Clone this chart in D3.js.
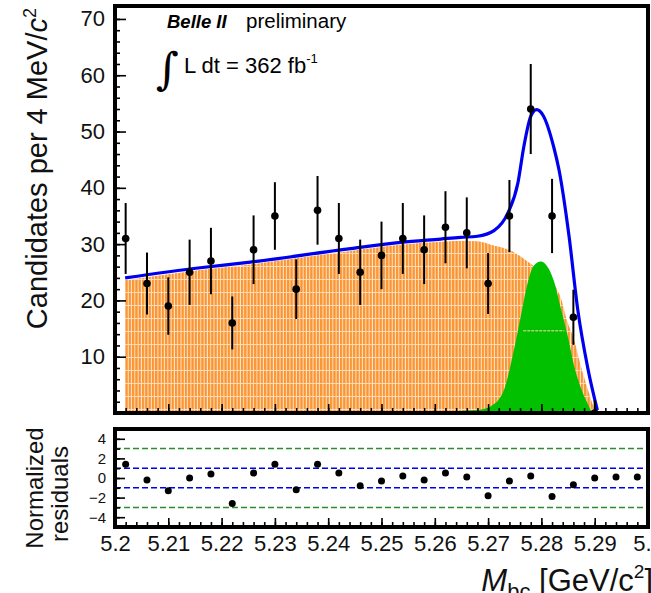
<!DOCTYPE html>
<html>
<head>
<meta charset="utf-8">
<script src="https://cdn.jsdelivr.net/npm/d3@7/dist/d3.min.js"></script>
<style>
  body { margin: 0; background: #fff; }
  svg { display: block; font-family: "Liberation Sans", Arial, Helvetica, sans-serif; }
</style>
</head>
<body>
<div id="chart"></div>
<script>
// bin centres of the 4 MeV bins
const binCenters = [5.202, 5.206, 5.210, 5.214, 5.218, 5.222, 5.226, 5.230, 5.234, 5.238,
    5.242, 5.246, 5.250, 5.254, 5.258, 5.262, 5.266, 5.270, 5.274, 5.278,
    5.282, 5.286, 5.290, 5.294, 5.298];
const counts = [31, 23, 19, 25, 27, 16, 29, 35, 22, 36, 31, 25, 28, 31, 29, 33, 32, 23, 35, 54, 35, 17, 0];
const errors = [6.3, 5.5, 5.1, 5.8, 5.9, 4.7, 6.1, 6.0, 5.3, 6.1, 6.3, 5.8, 6.0, 6.3, 6.1, 6.4, 6.3, 5.4, 6.4, 8.0, 6.6, 4.9, 2.3];
const residuals = [1.4, -0.2, -1.3, 0.0, 0.4, -2.6, 0.5, 1.4, -1.2, 1.4, 0.5, -0.8, -0.3, 0.2, -0.2,
    0.5, 0.1, -1.8, -0.3, 0.2, -1.9, -0.7, 0.0, 0.1, 0.1];

// fit curves: [Mbc, candidates]
const totalFit = [[5.2019, 24.0], [5.216, 25.8], [5.2254, 26.8], [5.2442, 29.2], [5.2536, 30.3],
    [5.2611, 30.9], [5.2648, 31.2], [5.268, 31.4], [5.2711, 32.4], [5.2737, 35.5], [5.2756, 40.9],
    [5.2767, 47.3], [5.278, 52.7], [5.2791, 53.9], [5.2803, 52.9], [5.2823, 47.3], [5.2833, 43.2],
    [5.2852, 31.3], [5.2868, 18.5], [5.2887, 8.0], [5.2905, 0.5]];
const bkgFit = [[5.2019, 23.6], [5.216, 25.4], [5.2254, 26.4], [5.2442, 28.8], [5.2536, 29.9],
    [5.2611, 30.4], [5.2648, 30.6], [5.268, 30.5], [5.2705, 29.9], [5.2748, 28.6], [5.2767, 27.4],
    [5.278, 26.5], [5.2808, 24.3], [5.2836, 20.6], [5.2848, 16.4], [5.286, 13.4], [5.2873, 8.7],
    [5.2888, 3.9], [5.29, 0.7], [5.2906, 0]];
const sigFit = [[5.2615, 0], [5.2625, 0.3], [5.265, 0.4], [5.2685, 0.6], [5.2705, 1.2], [5.2729, 3.9],
    [5.2748, 11], [5.2761, 17], [5.2774, 23], [5.2786, 26.2], [5.2799, 26.9], [5.2812, 25.9],
    [5.2823, 23.6], [5.2836, 18.8], [5.285, 13.4], [5.2861, 8.5], [5.2874, 4.5], [5.2886, 1.8],
    [5.2893, 0.5], [5.2906, 0]];

const yTicks = [10, 20, 30, 40, 50, 60, 70];
const resTicks = [-4, -2, 0, 2, 4];
const resLabels = ['\u22124', '\u22122', '0', '2', '4'];
const xTicks = [5.2, 5.21, 5.22, 5.23, 5.24, 5.25, 5.26, 5.27, 5.28, 5.29, 5.3];
const xTickLabels = ['5.2', '5.21', '5.22', '5.23', '5.24', '5.25', '5.26', '5.27', '5.28', '5.29', '5.3'];

(function () {
    const width = 651, height = 593;
    const left = 115, right = 648;

    const svg = d3.select('#chart').append('svg')
        .attr('width', width).attr('height', height);

    const x = d3.scaleLinear().domain([5.2, 5.3]).range([left, right]);
    const y = d3.scaleLinear().domain([0, 72.3]).range([413, 6]);
    const yr = d3.scaleLinear().domain([-5, 5]).range([527, 429]);

    // hatch for the background component
    const defs = svg.append('defs');
    const pat = defs.append('pattern').attr('id', 'hatch')
        .attr('patternUnits', 'userSpaceOnUse').attr('width', 3.3).attr('height', 13);
    pat.append('rect').attr('width', 3.3).attr('height', 13).attr('fill', '#fa9532');
    pat.append('rect').attr('x', 2.3).attr('width', 1).attr('height', 13).attr('fill', '#fff').attr('opacity', 0.75);
    pat.append('rect').attr('y', 6).attr('width', 2.3).attr('height', 1).attr('fill', '#ffdcb8');

    defs.append('clipPath').attr('id', 'topclip').append('rect')
        .attr('x', left).attr('y', 6).attr('width', right - left).attr('height', 407);

    // ---- top panel
    const topPanel = svg.append('g').attr('clip-path', 'url(#topclip)');

    const area = d3.area().x(d => x(d[0])).y0(y(0)).y1(d => y(d[1])).curve(d3.curveMonotoneX);
    const line = d3.line().x(d => x(d[0])).y(d => y(d[1])).curve(d3.curveMonotoneX);

    topPanel.append('path').datum(bkgFit).attr('d', area).attr('fill', 'url(#hatch)');
    topPanel.append('path').datum(sigFit).attr('d', area).attr('fill', '#00c000');
    // stray hatch line that shows through the signal
    topPanel.append('line')
        .attr('x1', x(5.2766)).attr('x2', x(5.2843)).attr('y1', y(14.6)).attr('y2', y(14.6))
        .attr('stroke', '#ffd9a8').attr('stroke-width', 1).attr('stroke-dasharray', '3,1');
    topPanel.append('path').datum(totalFit).attr('d', line)
        .attr('fill', 'none').attr('stroke', '#0000f0').attr('stroke-width', 3.2);

    const pts = counts.map((c, i) => ({ m: binCenters[i], n: c, e: errors[i] }));
    topPanel.selectAll('line.err').data(pts).enter().append('line')
        .attr('class', 'err')
        .attr('x1', d => x(d.m)).attr('x2', d => x(d.m))
        .attr('y1', d => y(d.n + d.e)).attr('y2', d => y(Math.max(0, d.n - d.e)))
        .attr('stroke', '#000').attr('stroke-width', 2);
    topPanel.selectAll('circle').data(pts).enter().append('circle')
        .attr('cx', d => x(d.m)).attr('cy', d => y(d.n)).attr('r', 3.8).attr('fill', '#000');

    // axes (ticks point inwards)
    const topAxes = svg.append('g');
    topAxes.append('g').attr('transform', `translate(${left},0)`)
        .call(d3.axisLeft(y).tickValues(d3.range(2, 72, 2)).tickSize(-5).tickFormat(''));
    topAxes.append('g').attr('transform', `translate(${left},0)`)
        .call(d3.axisLeft(y).tickValues(yTicks).tickSize(-11).tickPadding(10).tickFormat(d3.format('d')));
    topAxes.append('g').attr('transform', `translate(0,413)`)
        .call(d3.axisBottom(x).tickValues(d3.range(5.202, 5.3, 0.002)).tickSize(-5).tickFormat(''));
    topAxes.append('g').attr('transform', `translate(0,413)`)
        .call(d3.axisBottom(x).tickValues(xTicks).tickSize(-9).tickFormat(''));
    topAxes.selectAll('.domain').remove();
    topAxes.selectAll('.tick line').attr('stroke', '#000').attr('stroke-width', 1.6);
    topAxes.selectAll('text').attr('font-size', 22).attr('fill', '#111').attr('font-family', null);

    svg.append('rect').attr('x', left).attr('y', 6).attr('width', right - left).attr('height', 407)
        .attr('fill', 'none').attr('stroke', '#000').attr('stroke-width', 4);

    // labels in the top panel
    svg.append('text').attr('x', 167).attr('y', 28)
        .attr('font-size', 18.5).attr('font-weight', 'bold').attr('font-style', 'italic')
        .text('Belle II');
    svg.append('text').attr('x', 246).attr('y', 28).attr('font-size', 20.5).text('preliminary');
    svg.append('text').attr('x', 156).attr('y', 84)
        .attr('font-family', '"DejaVu Serif", serif').attr('font-size', 44).text('\u222B');
    const lumi = svg.append('text').attr('x', 184).attr('y', 73).attr('font-size', 22);
    lumi.append('tspan').text('L dt = 362 fb');
    lumi.append('tspan').attr('dy', -10).attr('font-size', 13).text('-1');

    // ---- residual panel
    const res = svg.append('g');
    res.selectAll('line.band').data([3, -3, 1, -1]).enter().append('line')
        .attr('x1', left).attr('x2', right)
        .attr('y1', d => yr(d)).attr('y2', d => yr(d))
        .attr('stroke', d => Math.abs(d) === 3 ? '#2e8b2e' : '#0000ee')
        .attr('stroke-width', 1.5).attr('stroke-dasharray', '6,3');
    res.selectAll('circle').data(residuals).enter().append('circle')
        .attr('cx', (d, i) => x(binCenters[i])).attr('cy', d => yr(d)).attr('r', 3.5).attr('fill', '#000');

    const resAxes = svg.append('g');
    resAxes.append('g').attr('transform', `translate(${left},0)`)
        .call(d3.axisLeft(yr).tickValues([-4, -3, -2, -1, 0, 1, 2, 3, 4]).tickSize(-5).tickFormat(''));
    resAxes.append('g').attr('class', 'rlab').attr('transform', `translate(${left},0)`)
        .call(d3.axisLeft(yr).tickValues(resTicks).tickSize(-10).tickPadding(9)
            .tickFormat((d, i) => resLabels[i]));
    resAxes.append('g').attr('transform', `translate(0,527)`)
        .call(d3.axisBottom(x).tickValues(d3.range(5.202, 5.3, 0.002)).tickSize(-5).tickFormat(''));
    resAxes.append('g').attr('class', 'xlab').attr('transform', `translate(0,527)`)
        .call(d3.axisBottom(x).tickValues(xTicks).tickSize(-9).tickPadding(8)
            .tickFormat((d, i) => xTickLabels[i]));
    resAxes.selectAll('.domain').remove();
    resAxes.selectAll('.tick line').attr('stroke', '#000').attr('stroke-width', 1.6);
    resAxes.selectAll('text').attr('font-family', null).attr('fill', '#111');
    resAxes.selectAll('.rlab text').attr('font-size', 15);
    resAxes.selectAll('.xlab text').attr('font-size', 22);

    svg.append('rect').attr('x', left).attr('y', 429).attr('width', right - left).attr('height', 98)
        .attr('fill', 'none').attr('stroke', '#000').attr('stroke-width', 4);

    // axis titles
    const yTitle = svg.append('text')
        .attr('transform', 'translate(47,8) rotate(-90)')
        .attr('text-anchor', 'end').attr('font-size', 29).attr('fill', '#111');
    yTitle.append('tspan').text('Candidates per 4 MeV/');
    yTitle.append('tspan').attr('font-style', 'italic').text('c');
    yTitle.append('tspan').attr('dy', -11).attr('font-size', 18).text('2');

    const resTitle = svg.append('text').attr('transform', 'translate(43,488) rotate(-90)')
        .attr('text-anchor', 'middle').attr('font-size', 24).attr('fill', '#111');
    resTitle.append('tspan').attr('x', 0).text('Normalized');
    resTitle.append('tspan').attr('x', -6).attr('dy', 25).text('residuals');

    const xTitle = svg.append('text').attr('x', 653).attr('y', 591)
        .attr('text-anchor', 'end').attr('font-size', 31).attr('fill', '#111');
    xTitle.append('tspan').attr('font-style', 'italic').text('M');
    xTitle.append('tspan').attr('dy', 8).attr('font-size', 22).text('bc');
    xTitle.append('tspan').attr('dy', -8).text(' [GeV/c');
    xTitle.append('tspan').attr('dy', -13).attr('font-size', 19).text('2');
    xTitle.append('tspan').attr('dy', 13).text(']');
})();
</script>
</body>
</html>
